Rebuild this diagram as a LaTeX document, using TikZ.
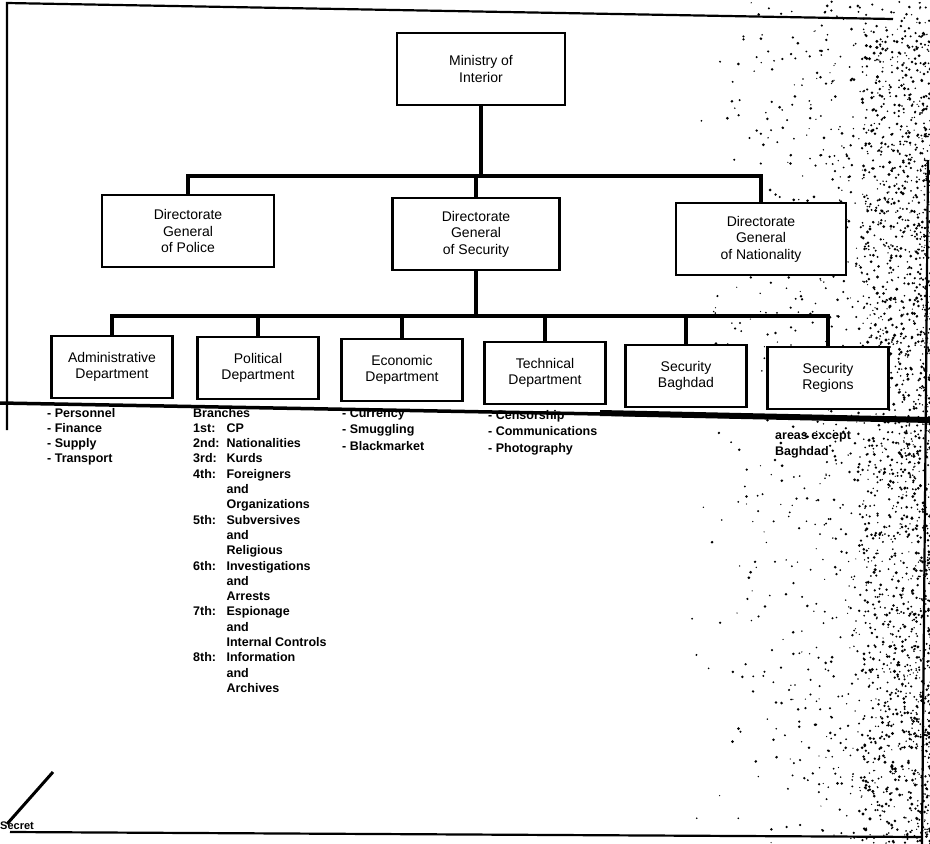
\documentclass[tikz,border=0pt]{standalone}
\usepackage{fontspec}
\setmainfont{Liberation Sans}
\begin{document}
\begin{tikzpicture}[x=1pt,y=-1pt,
  box/.style={draw, line width=2.2pt, fill=white, align=center, inner sep=2pt, font=\fontsize{14}{16.5}\selectfont},
  topbox/.style={box, minimum width=170pt, minimum height=72pt},
  deptbox/.style={box, minimum width=121pt, minimum height=62pt},
  conn/.style={line width=4pt},
  lst/.style={anchor=base west, inner sep=0pt, font=\bfseries\fontsize{12.5}{15.3}\selectfont},
  lsttwo/.style={anchor=base west, inner sep=0pt, font=\bfseries\fontsize{12.5}{16.5}\selectfont},
  frameline/.style={line width=2.2pt},
  smear/.style={line width=3.5pt}
]
\useasboundingbox (0,0) rectangle (930,844);
\fill[white] (0,0) rectangle (930,844);

% scan speckles
\pgfmathsetseed{2024}
\foreach \i in {1,...,1800}{
  \pgfmathsetmacro{\sx}{932-250*rnd*rnd}
  \pgfmathsetmacro{\sy}{844*rnd}
  \pgfmathsetmacro{\sr}{0.6+0.9*rnd}
  \fill (\sx,\sy) circle (\sr);
}
\foreach \i in {1,...,900}{
  \pgfmathsetmacro{\sx}{932-70*rnd}
  \pgfmathsetmacro{\sy}{30+814*rnd}
  \pgfmathsetmacro{\sr}{0.7+1.0*rnd}
  \fill (\sx,\sy) circle (\sr);
}

% frame
\draw[frameline] (7,430) -- (7,3) -- (893,19);
\draw[frameline] (928,160) -- (922,844);
\draw[frameline] (10,832) -- (922,837);

% top levels
\node[topbox, minimum width=168pt] (min) at (481,69) {Ministry of\\Interior};
\node[topbox, minimum width=172pt] (pol) at (188,231) {Directorate\\General\\of Police};
\node[topbox, minimum width=167pt] (sec) at (476,234) {Directorate\\General\\of Security};
\node[topbox] (nat) at (761,239) {Directorate\\General\\of Nationality};

% departments
\node[deptbox] (adm) at (112,367) {Administrative\\Department};
\node[deptbox] (polit) at (258,368) {Political\\Department};
\node[deptbox] (eco) at (402,370) {Economic\\Department};
\node[deptbox] (tec) at (545,373) {Technical\\Department};
\node[deptbox] (bag) at (686,376) {Security\\Baghdad};
\node[deptbox] (reg) at (828,378) {Security\\Regions};

% connectors
\coordinate (b1) at (478,176);
\draw[conn] (min.south) -- (min.south |- b1);
\draw[conn] (sec.north) -- (sec.north |- b1);
\draw[conn] (pol.north) |- (b1) -| (nat.north);
\coordinate (b2) at (476,316);
\draw[conn] (sec.south) -- (b2);
\draw[conn] (adm.north) |- (b2) -| (reg.north);
\foreach \n in {polit,eco,tec,bag}{\draw[conn] (\n.north) -- (\n.north |- b2);}

% lists
\node[lst] (admL) at (47,417) {\begin{tabular}[t]{@{}l@{}}- Personnel\\- Finance\\- Supply\\- Transport\end{tabular}};
\node[lst] (polL) at (193,417) {\begin{tabular}[t]{@{}l@{\hspace{7pt}}l@{}}
\multicolumn{2}{@{}l@{}}{Branches}\\
1st: & CP\\
2nd: & Nationalities\\
3rd: & Kurds\\
4th: & Foreigners\\
 & and\\
 & Organizations\\
5th: & Subversives\\
 & and\\
 & Religious\\
6th: & Investigations\\
 & and\\
 & Arrests\\
7th: & Espionage\\
 & and\\
 & Internal Controls\\
8th: & Information\\
 & and\\
 & Archives
\end{tabular}};
\node[lsttwo] (ecoL) at (342,417) {\begin{tabular}[t]{@{}l@{}}- Currency\\- Smuggling\\- Blackmarket\end{tabular}};
\node[lsttwo] (tecL) at (488,419) {\begin{tabular}[t]{@{}l@{}}- Censorship\\- Communications\\- Photography\end{tabular}};
\node[lsttwo] (regL) at (775,439) {\begin{tabular}[t]{@{}l@{}}areas except\\Baghdad\end{tabular}};

% scan smear across the page
\draw[smear] (0,403) -- (930,420);
\draw[line width=6pt] (600,413) -- (930,420);

% corner mark
\node[anchor=base west, inner sep=0pt, font=\bfseries\fontsize{11}{12}\selectfont] (secret) at (0,829) {Secret};
\coordinate (slashA) at (7,824);
\coordinate (slashB) at (53,772);
\draw[line width=3pt] (slashA) -- (slashB);
\end{tikzpicture}
\end{document}
